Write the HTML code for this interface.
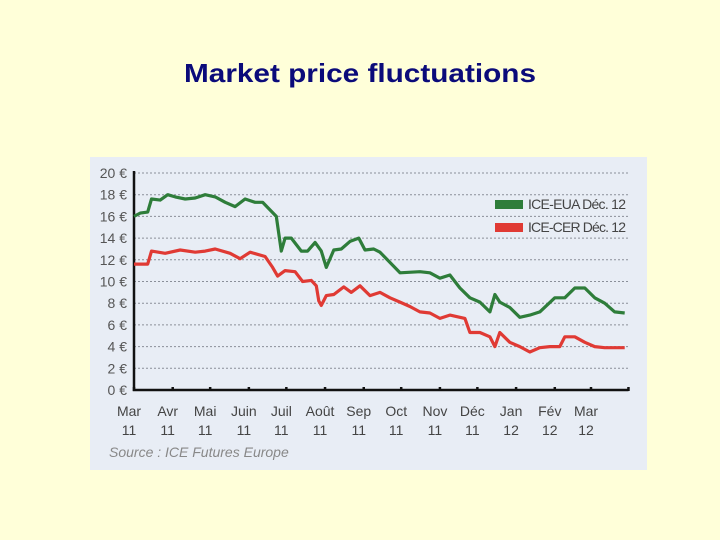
<!DOCTYPE html>
<html><head><meta charset="utf-8"><style>
body{margin:0;width:720px;height:540px;background:#ffffd9;overflow:hidden;font-family:"Liberation Sans",sans-serif}
</style></head><body>
<svg width="720" height="540" style="position:absolute;left:0;top:0">
<text x="360" y="82" text-anchor="middle" font-size="26" font-weight="bold" fill="#0b0b7a" textLength="352" lengthAdjust="spacingAndGlyphs">Market price fluctuations</text>
<rect x="90" y="157" width="557" height="313" fill="#e8edf5"/>
<g id="grid"></g><g id="ylabels"></g><g id="xlabels"></g><g id="series"></g>
<rect x="495" y="200" width="28" height="9" fill="#2e7d3a"/>
<text x="528" y="209" font-size="14" fill="#444" textLength="98">ICE-EUA Déc. 12</text>
<rect x="495" y="223" width="28" height="9" fill="#e03a34"/>
<text x="528" y="232" font-size="14" fill="#444" textLength="98">ICE-CER Déc. 12</text>
<text x="109" y="457" font-size="14" font-style="italic" fill="#888">Source : ICE Futures Europe</text>
</svg>
<script>
const yTicks=[0,2,4,6,8,10,12,14,16,18,20];
const monthLabels=["Mar","Avr","Mai","Juin","Juil","Août","Sep","Oct","Nov","Déc","Jan","Fév","Mar"];
const yearLabels=["11","11","11","11","11","11","11","11","11","11","12","12","12"];
const monthStartDays=[0,31,61,92,122,153,184,214,245,275,306,337,366,396];
const euaDays=[0,5,11,14,21,27,33,41,49,57,65,73,81,89,97,103,114,118,121,126,134,139,145,150,154,160,166,173,180,185,192,197,213,229,237,245,253,261,269,277,285,289,293,301,309,317,325,337,345,353,361,369,377,385,393];
const euaVals=[16.0,16.3,16.4,17.6,17.5,18.0,17.8,17.6,17.7,18.0,17.8,17.3,16.9,17.6,17.3,17.3,16.0,12.8,14.0,14.0,12.8,12.8,13.6,12.8,11.3,12.9,13.0,13.7,14.0,12.9,13.0,12.7,10.8,10.9,10.8,10.3,10.6,9.4,8.5,8.1,7.2,8.8,8.1,7.6,6.7,6.9,7.2,8.5,8.5,9.4,9.4,8.5,8.0,7.2,7.1];
const cerDays=[0,11,14,25,37,49,57,65,77,85,93,105,111,115,121,129,135,142,146,148,150,154,160,168,174,181,189,197,205,213,221,229,237,245,253,265,269,277,285,289,293,301,309,317,325,333,341,345,353,361,369,377,393];
const cerVals=[11.6,11.6,12.8,12.6,12.9,12.7,12.8,13.0,12.6,12.1,12.7,12.3,11.3,10.5,11.0,10.9,10.0,10.1,9.6,8.2,7.8,8.7,8.8,9.5,9.0,9.6,8.7,9.0,8.5,8.1,7.7,7.2,7.1,6.6,6.9,6.6,5.3,5.3,4.9,4.0,5.3,4.4,4.0,3.5,3.9,4.0,4.0,4.9,4.9,4.4,4.0,3.9,3.9];
const NS="http://www.w3.org/2000/svg";
const X0=134,PXD=(591-134)/366,Y0=390,PYU=(390-173)/20;
const xS=d=>X0+d*PXD, yS=v=>Y0-v*PYU;
function mk(t,a,p){const e=document.createElementNS(NS,t);for(const k in a)e.setAttribute(k,a[k]);p.appendChild(e);return e;}
const grid=document.getElementById('grid'),yl=document.getElementById('ylabels'),xl=document.getElementById('xlabels'),se=document.getElementById('series');
yTicks.forEach(v=>{
 if(v>0){const g=mk('line',{x1:X0,x2:628,y1:yS(v),y2:yS(v),stroke:'#8a8f99','stroke-width':1,'stroke-dasharray':'2,2'},grid);
 
 }
 const t=mk('text',{x:127,y:yS(v)+5,'text-anchor':'end','font-size':14,fill:'#555'},yl);t.textContent=v+' €';
 
 
});
const ax=mk('path',{d:`M${X0} ${yS(20)-2}V${Y0}H${xS(monthStartDays[13])}`,stroke:'#111',fill:'none','stroke-width':2.5},grid);


monthStartDays.forEach(d=>{const t=mk('line',{x1:xS(d),x2:xS(d),y1:Y0-3,y2:Y0+1,stroke:'#111','stroke-width':2.5},grid);
 
 });
monthLabels.forEach((m,i)=>{const x=xS(monthStartDays[i])-5;
 const a=mk('text',{x:x,y:416,'text-anchor':'middle','font-size':14,fill:'#444'},xl);a.textContent=m;
 
 
 const b=mk('text',{x:x,y:435,'text-anchor':'middle','font-size':14,fill:'#444'},xl);b.textContent=yearLabels[i];
 
 });
function line(days,vals,col,name){const d=days.map((dd,i)=>(i?'L':'M')+xS(dd).toFixed(1)+' '+yS(vals[i]).toFixed(1)).join('');
 const p=mk('path',{d:d,stroke:col,fill:'none','stroke-width':3.2,'stroke-linejoin':'round'},se);
 
 }
line(cerDays,cerVals,'#e03a34','cer-line');
line(euaDays,euaVals,'#2e7d3a','eua-line');
</script>
</body></html>
